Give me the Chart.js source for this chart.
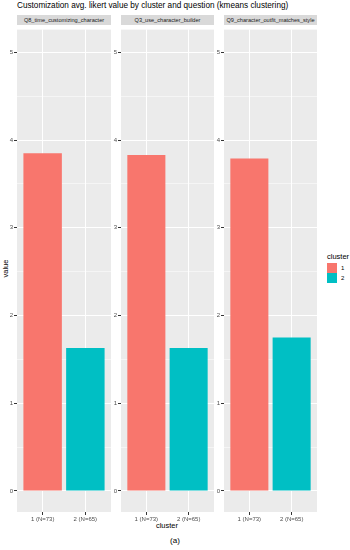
<!DOCTYPE html>
<html>
<head>
<meta charset="utf-8">
<script src="https://cdn.jsdelivr.net/npm/chart.js@4"></script>
<style>
  body { margin:0; background:#fff; font-family:"Liberation Sans", Arial, sans-serif; }
  #wrap { position:relative; width:350px; height:550px; overflow:hidden; }
  .abs { position:absolute; }
  .strip { background:#d9d9d9; color:#1a1a1a; font-size:5.6px; text-align:center; line-height:10px; height:10px; white-space:nowrap; overflow:hidden; }
  #title { left:17px; top:1px; font-size:8.2px; color:#000; white-space:nowrap; }
  #xlab { left:17px; width:300px; top:521px; font-size:7.5px; text-align:center; color:#000; }
  #ylab { left:-10px; top:264px; width:30px; font-size:7.5px; text-align:center; transform:rotate(-90deg); color:#000; }
  #sub { left:0; width:350px; top:536px; font-size:8px; text-align:center; color:#000; }
  #legend { left:327px; top:252px; font-size:7.5px; color:#000; }
  .key { display:flex; align-items:center; font-size:6px; height:10px; margin-top:0; }
  .sw { width:10px; height:10px; margin-right:4px; }
</style>
</head>
<body>
<div id="wrap">
  <div id="title" class="abs">Customization avg. likert value by cluster and question (kmeans clustering)</div>
  <div id="ylab" class="abs">value</div>
  <div id="xlab" class="abs">cluster</div>
  <div id="sub" class="abs">(a)</div>
  <div id="legend" class="abs"></div>
</div>
<script>
// =========================
// DATA
// =========================
const QUESTIONS = ['Q8_time_customizing_character', 'Q3_use_character_builder', 'Q9_character_outfit_matches_style'];
const CLUSTERS = ['1', '2'];
const X_LABELS = ['1 (N=73)', '2 (N=65)'];
const CLUSTER1 = [3.85, 3.83, 3.79];
const CLUSTER2 = [1.63, 1.63, 1.75];
const Y_TICKS = [0, 0.5, 1, 1.5, 2, 2.5, 3, 3.5, 4, 4.5, 5];

const COLORS = ['#F8766D', '#00BFC4'];
const FONT = '"Liberation Sans", Arial, sans-serif';

// panel geometry (ggplot facets)
const PANEL_LEFT = [17, 121, 224];
const PANEL_W = [94, 93, 93];
const PANEL_TOP = 25, PANEL_H = 487;
const YAXIS_W = 14, XAXIS_H = 14;

const wrap = document.getElementById('wrap');

const panelBg = {
  id: 'panelBg',
  beforeDraw(chart) {
    const a = chart.chartArea, c = chart.ctx;
    c.save();
    c.fillStyle = '#ebebeb';
    c.fillRect(a.left, a.top, a.right - a.left, a.bottom - a.top);
    c.restore();
  }
};

QUESTIONS.forEach((q, i) => {
  const strip = document.createElement('div');
  strip.className = 'abs strip';
  strip.style.left = PANEL_LEFT[i] + 'px';
  strip.style.width = PANEL_W[i] + 'px';
  strip.style.top = '15px';
  strip.textContent = q;
  wrap.appendChild(strip);

  const cv = document.createElement('canvas');
  cv.className = 'abs';
  cv.width = PANEL_W[i] + YAXIS_W;
  cv.height = PANEL_H + XAXIS_H;
  cv.style.left = (PANEL_LEFT[i] - YAXIS_W) + 'px';
  cv.style.top = PANEL_TOP + 'px';
  wrap.appendChild(cv);

  new Chart(cv, {
    type: 'bar',
    data: {
      datasets: [
        { label: CLUSTERS[0], data: [{ x: 1, y: CLUSTER1[i] }], backgroundColor: COLORS[0] },
        { label: CLUSTERS[1], data: [{ x: 2, y: CLUSTER2[i] }], backgroundColor: COLORS[1] }
      ]
    },
    options: {
      responsive: false,
      animation: false,
      devicePixelRatio: 1,
      layout: { padding: 0 },
      datasets: { bar: { grouped: false, barPercentage: 0.9, categoryPercentage: 1, borderWidth: 0 } },
      plugins: { legend: { display: false }, tooltip: { enabled: false } },
      scales: {
        x: {
          type: 'linear', min: 0.4, max: 2.6, offset: false,
          afterBuildTicks: s => { s.ticks = X_LABELS.map((_, k) => ({ value: k + 1 })); },
          afterFit: s => { s.height = XAXIS_H; },
          border: { display: false },
          grid: { offset: false, color: '#ffffff', lineWidth: 1, tickColor: '#333333', tickLength: 3 },
          ticks: {
            padding: 1, color: '#4d4d4d', maxRotation: 0, autoSkip: false,
            font: { family: FONT, size: 6 },
            callback: v => X_LABELS[v - 1]
          }
        },
        y: {
          min: -0.24, max: 5.26,
          afterBuildTicks: s => { s.ticks = Y_TICKS.map(v => ({ value: v })); },
          afterFit: s => { s.width = YAXIS_W; },
          border: { display: false },
          grid: {
            color: '#ffffff',
            lineWidth: c => (c.tick && c.tick.value % 1 === 0) ? 1 : 0.5,
            tickColor: c => (c.tick && c.tick.value % 1 === 0) ? '#333333' : 'rgba(0,0,0,0)',
            tickLength: 3
          },
          ticks: {
            padding: 1, color: '#4d4d4d', autoSkip: false,
            font: { family: FONT, size: 6 },
            callback: v => v % 1 === 0 ? String(v) : ''
          }
        }
      }
    },
    plugins: [panelBg]
  });
});

// legend
const leg = document.getElementById('legend');
leg.innerHTML = '<div style="margin-bottom:2px">cluster</div>' +
  CLUSTERS.map((c, k) => '<div class="key"><div class="sw" style="background:' + COLORS[k] + '"></div>' + c + '</div>').join('');
</script>
</body>
</html>
